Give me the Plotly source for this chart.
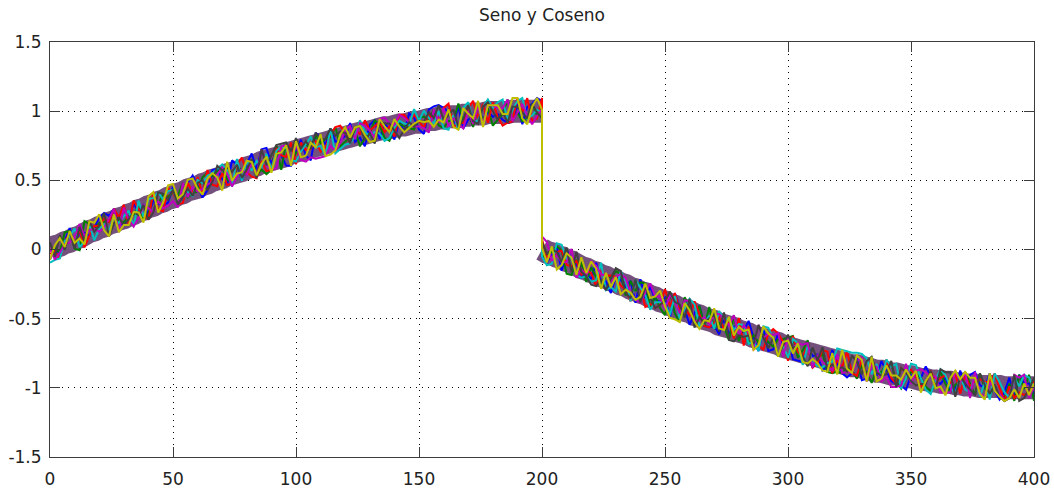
import plotly.graph_objects as go

# ---------------- data ----------------
# centre of the "Seno" band, read every 2 units on x from 0 to 200
sine_centre = [0.00, 0.02, 0.03, 0.05, 0.06, 0.08, 0.09, 0.11, 0.13, 0.14,
               0.16, 0.17, 0.19, 0.20, 0.22, 0.23, 0.25, 0.26, 0.28, 0.29,
               0.31, 0.32, 0.34, 0.35, 0.37, 0.38, 0.40, 0.41, 0.43, 0.44,
               0.45, 0.47, 0.48, 0.50, 0.51, 0.52, 0.54, 0.55, 0.56, 0.57,
               0.59, 0.60, 0.61, 0.63, 0.64, 0.65, 0.66, 0.67, 0.68, 0.70,
               0.71, 0.72, 0.73, 0.74, 0.75, 0.76, 0.77, 0.78, 0.79, 0.80,
               0.81, 0.82, 0.83, 0.84, 0.84, 0.85, 0.86, 0.87, 0.88, 0.88,
               0.89, 0.90, 0.90, 0.91, 0.92, 0.92, 0.93, 0.94, 0.94, 0.95,
               0.95, 0.96, 0.96, 0.96, 0.97, 0.97, 0.98, 0.98, 0.98, 0.99,
               0.99, 0.99, 0.99, 0.99, 1.00, 1.00, 1.00, 1.00, 1.00, 1.00,
               1.00]
# centre of the "Coseno" band, read every 2 units on x from 200 to 400
cosine_centre = [0.00, -0.02, -0.03, -0.05, -0.06, -0.08, -0.09, -0.11, -0.13, -0.14,
                 -0.16, -0.17, -0.19, -0.20, -0.22, -0.23, -0.25, -0.26, -0.28, -0.29,
                 -0.31, -0.32, -0.34, -0.35, -0.37, -0.38, -0.40, -0.41, -0.43, -0.44,
                 -0.45, -0.47, -0.48, -0.50, -0.51, -0.52, -0.54, -0.55, -0.56, -0.57,
                 -0.59, -0.60, -0.61, -0.63, -0.64, -0.65, -0.66, -0.67, -0.68, -0.70,
                 -0.71, -0.72, -0.73, -0.74, -0.75, -0.76, -0.77, -0.78, -0.79, -0.80,
                 -0.81, -0.82, -0.83, -0.84, -0.84, -0.85, -0.86, -0.87, -0.88, -0.88,
                 -0.89, -0.90, -0.90, -0.91, -0.92, -0.92, -0.93, -0.94, -0.94, -0.95,
                 -0.95, -0.96, -0.96, -0.96, -0.97, -0.97, -0.98, -0.98, -0.98, -0.99,
                 -0.99, -0.99, -0.99, -0.99, -1.00, -1.00, -1.00, -1.00, -1.00, -1.00,
                 -1.00]
x_sine = list(range(0, 201, 2))
x_cosine = list(range(200, 401, 2))

# position of each coloured line inside the band (0 = bottom edge, 9 = top edge)
blue_jitter = [1,4,1,5,9,2,6,5,3,5, 8,9,7,9,3,2,3,8,4,6, 2,6,4,3,3,8,3,2,7,9, 5,0,2,8,8,4,1,9,7,1, 6,9,3,9,9,3,7,5,1,0,
               5,8,2,0,9,7,4,9,4,4, 5,9,2,3,0,7,8,1,6,4, 0,6,2,8,6,2,0,8,9,9, 8,6,2,8,0,3,4,8,2,5, 3,4,2,1,1,7,0,6,7,9,
               8,2,1,4,8,0,8,6,5,1, 3,2,8,2,3,0,6,6,4,7, 0,9,3,8,4,4,6,0,9,5, 5,0,5,8,2,2,3,1,7,2, 5,3,5,9,4,0,8,1,2,8,
               4,8,1,1,1,7,4,5,0,2, 8,4,1,0,2,7,0,1,9,3, 8,5,2,1,1,0,5,5,5,9, 6,4,4,6,2,2,9,4,8,9, 5,4,9,3,0,3,8,1,9,6,
               6,2]
green_jitter = [4,4,2,8,8,1,0,9,7,5, 6,6,5,9,3,3,4,4,6,1, 2,8,4,7,5,6,4,8,2,3, 3,7,8,6,7,8,3,1,6,5, 2,7,1,2,0,1,9,0,9,1,
                4,5,6,4,8,5,6,6,9,2, 3,4,6,0,3,4,8,6,1,0, 4,5,4,3,2,6,6,4,8,2, 1,3,3,9,3,6,0,7,2,6, 0,2,4,9,1,4,1,2,7,3,
                7,2,4,5,8,7,0,0,6,6, 0,6,3,1,5,5,8,8,1,7, 4,8,8,1,5,2,0,9,2,0, 9,6,2,8,2,9,2,5,4,0, 9,1,7,1,5,3,6,4,3,6,
                7,8,9,2,5,9,0,3,6,0, 0,1,1,3,3,0,5,3,0,5, 4,8,8,2,0,4,6,6,5,2, 1,3,8,4,1,4,6,9,5,1, 9,4,1,5,1,1,6,0,9,4,
                9,0]
red_jitter = [3,3,0,5,7,2,7,0,3,6, 5,7,5,9,5,9,1,9,5,3, 0,9,2,1,8,6,1,1,7,3, 8,1,9,3,2,6,1,1,7,9, 3,1,0,5,1,1,8,5,4,8,
              0,7,4,4,6,2,3,7,9,9, 6,2,7,4,9,5,6,7,3,5, 1,8,8,5,7,5,2,7,2,4, 8,9,1,2,2,7,9,3,8,1, 8,3,0,1,1,9,4,9,1,2,
              9,8,3,3,6,7,3,3,6,2, 4,4,0,6,5,6,6,4,3,0, 8,6,0,2,1,3,9,4,9,4, 6,3,9,5,2,2,4,7,3,7, 1,9,0,7,0,2,1,7,9,8,
              6,0,9,4,3,7,0,2,7,7, 0,5,3,9,2,1,7,1,7,6, 2,9,3,1,7,6,7,5,2,3, 8,4,6,7,4,8,1,8,4,6, 7,6,6,9,4,0,5,1,3,2,
              3,7]
cyan_jitter = [0,0,0,5,6,8,1,2,7,1, 4,5,2,6,3,5,6,0,8,2, 7,7,8,5,7,7,1,3,4,2, 7,5,7,7,8,9,6,0,9,1, 7,3,6,3,7,1,7,8,7,2,
               1,4,6,8,4,4,0,9,0,1, 2,2,4,9,5,3,4,3,0,1, 4,6,5,4,9,5,8,5,3,7, 1,0,5,0,7,9,2,2,7,9, 6,8,9,2,5,8,9,2,3,5,
               4,2,0,1,9,9,5,6,1,1, 2,1,2,9,0,2,1,9,6,0, 8,6,4,0,3,4,4,1,8,1, 5,9,8,1,3,6,2,9,7,7, 4,7,7,1,3,0,9,9,6,0,
               5,1,8,7,0,7,2,1,1,3, 4,9,9,9,9,9,9,8,3,7, 2,9,7,8,0,4,9,9,5,1, 0,5,9,7,3,1,7,3,2,8, 1,6,0,9,6,3,1,8,5,9,
               8,4]
magenta_jitter = [5,0,2,4,4,5,9,4,5,5, 3,4,6,9,0,8,3,0,2,6, 4,2,5,2,2,3,0,8,2,5, 3,3,4,4,6,8,5,0,3,5, 2,6,1,9,3,1,1,8,8,1,
                  7,1,0,1,0,0,0,3,1,3, 7,8,3,8,7,5,2,8,8,6, 5,8,7,5,3,3,2,0,8,3, 8,1,4,2,0,6,1,7,1,7, 7,6,6,9,1,4,7,3,0,3,
                  5,9,8,2,5,3,4,9,0,4, 2,8,7,5,5,4,6,8,7,3, 1,1,5,9,5,6,2,8,6,3, 8,8,2,3,5,3,7,8,7,5, 9,3,7,5,1,9,5,7,7,8,
                  1,8,5,7,7,8,0,5,3,2, 1,7,1,2,2,6,8,0,6,6, 1,3,0,0,1,9,2,7,8,7, 6,6,1,1,1,9,5,9,0,9, 2,1,6,4,2,0,1,9,8,9,
                  1,5]
dark_jitter = [7,1,8,2,8,1,8,2,8,4, 5,9,0,4,5,2,3,5,3,6, 0,2,8,7,4,7,1,3,5,2, 6,6,2,4,9,7,7,5,7,2, 4,7,0,9,3,6,9,9,9,5,
               9,5,7,4,9,6,6,9,6,7, 6,2,7,7,2,4,0,7,6,6, 3,0,3,5,3,5,4,7,5,9, 4,5,7,1,3,8,2,1,7,8, 5,2,5,1,6,6,4,2,7,4,
               2,7,4,6,6,3,9,1,9,3, 2,0,0,3,0,5,9,9,2,1, 8,1,7,4,1,3,5,9,6,6, 2,9,0,4,3,5,7,2,9,0, 0,3,3,4,2,9,5,2,6,0,
               5,9,5,6,3,0,7,3,8,1, 3,2,3,2,8,6,2,7,9,4, 3,4,9,0,7,6,3,2,3,3, 8,2,9,8,8,0,7,5,3,1, 9,5,2,5,1,0,1,9,0,1,
               4,8]
yellow_jitter = [1,5,7,3,8,3,4,1,8,7, 9,3,0,7,0,2,1,5,4,0, 8,9,1,4,9,9,3,4,8,8, 4,1,6,7,5,0,9,2,4,4, 7,6,1,4,6,0,6,6,8,0,
                 8,2,2,6,4,8,0,0,1,6, 8,4,7,7,4,1,1,8,5,3, 7,4,2,3,4,5,4,4,2,4, 3,7,1,0,7,5,3,9,0,7, 7,7,4,4,9,9,2,0,6,9,
                 5,5,1,7,0,2,7,6,1,8, 3,8,6,0,6,2,6,1,3,3, 1,3,8,4,5,8,3,0,0,0, 7,5,2,0,4,4,9,3,3,8, 2,6,5,6,0,2,9,7,6,0,
                 6,7,3,7,1,1,3,2,0,0, 7,0,9,3,2,8,7,0,9,1, 2,7,4,4,3,7,4,7,0,4, 7,2,3,0,6,9,6,9,7,7, 2,0,9,3,1,0,1,4,1,6,
                 2,6]

x_ticks = [0, 50, 100, 150, 200, 250, 300, 350, 400]
x_tick_labels = ["0", "50", "100", "150", "200", "250", "300", "350", "400"]
y_ticks = [-1.5, -1, -0.5, 0, 0.5, 1, 1.5]
y_tick_labels = ["-1.5", "-1", "-0.5", "0", "0.5", "1", "1.5"]
title_text = "Seno y Coseno"

# ---------------- figure ----------------
band_half = 0.0945          # half height of the band in data units
step = band_half / 4.5      # one jitter level

x_all = x_sine + x_cosine
centre_all = sine_centre + cosine_centre

fig = go.Figure()

# underlay: fills gaps between the thin coloured strokes
for xs, ys in ((x_sine, sine_centre), (x_cosine, cosine_centre)):
    fig.add_trace(go.Scatter(x=xs, y=ys, mode="lines",
                             line=dict(color="#74507c", width=23, simplify=False),
                             hoverinfo="skip", showlegend=False))

series = [
    ("#0000ff", blue_jitter),
    ("#008000", green_jitter),
    ("#ff0000", red_jitter),
    ("#00bfbf", cyan_jitter),
    ("#bf00bf", magenta_jitter),
    ("#404040", dark_jitter),
    ("#bfbf00", yellow_jitter),
]
for color, jit in series:
    n = min(len(x_all), len(jit))
    ys = [centre_all[i] + (jit[i] - 4.5) * step for i in range(n)]
    fig.add_trace(go.Scatter(x=x_all[:n], y=ys, mode="lines",
                             line=dict(color=color, width=2, simplify=False),
                             hoverinfo="skip", showlegend=False))

font_family = "DejaVu Sans, Verdana, sans-serif"
axis_common = dict(
    showline=True, linecolor="#3c3c3c", linewidth=1, mirror="ticks",
    ticks="inside", ticklen=10, tickwidth=1, tickcolor="#3c3c3c",
    showgrid=True, gridcolor="#000000", gridwidth=1, griddash="1px,5px",
    zeroline=False, automargin=False,
    tickfont=dict(family=font_family, size=17, color="#222222"),
)

fig.update_layout(
    width=1054, height=490,
    margin=dict(l=50, r=20, t=42, b=33),
    paper_bgcolor="white", plot_bgcolor="white",
    showlegend=False,
    title=dict(text=title_text, x=0.5, xref="paper", xanchor="center",
               y=1 - 15 / 490, yref="container", yanchor="middle",
               font=dict(family=font_family, size=17, color="#222222")),
    xaxis=dict(range=[0, 400], tickvals=x_ticks, ticktext=x_tick_labels,
               ticklabelstandoff=7, **axis_common),
    yaxis=dict(range=[-1.5, 1.5], tickvals=y_ticks, ticktext=y_tick_labels,
               ticklabelstandoff=4, **axis_common),
)

fig.write_html("out.html")
